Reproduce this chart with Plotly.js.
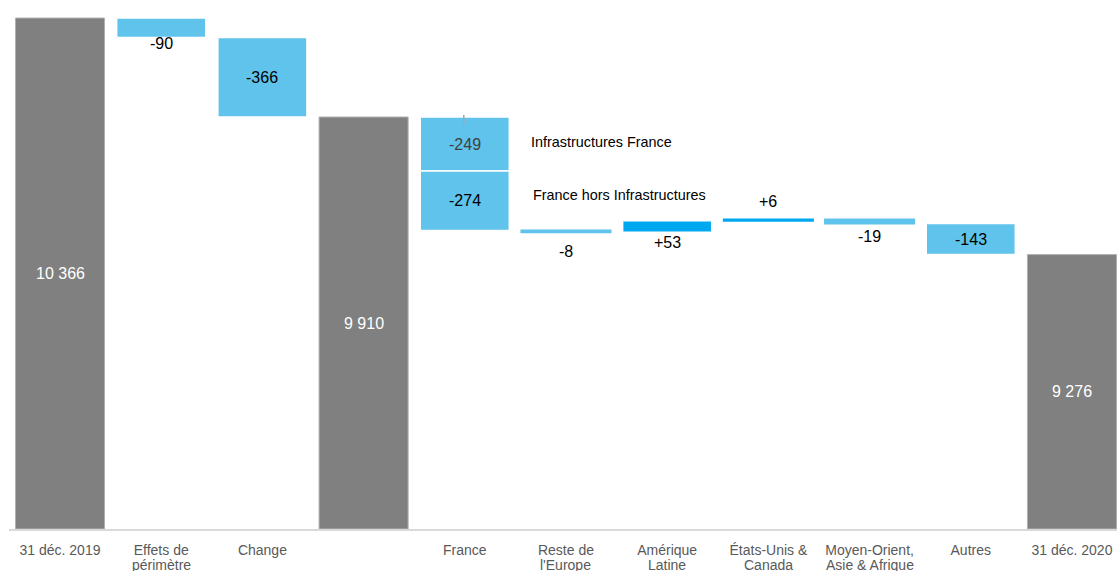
<!DOCTYPE html>
<html>
<head>
<meta charset="utf-8">
<script src="https://cdn.plot.ly/plotly-3.0.1.min.js"></script>
<style>
html,body{margin:0;padding:0;background:#fff;}
#chart{width:1117px;height:571px;}
</style>
</head>
<body>
<div id="chart"></div>
<script>
// ---- data ----
const categories = ['31 déc. 2019', 'Effets de<br>périmètre', 'Change', '', 'France',
  "Reste de<br>l'Europe", 'Amérique<br>Latine', 'États-Unis &<br>Canada',
  'Moyen-Orient,<br>Asie & Afrique', 'Autres', '31 déc. 2020'];
const totalIndex = [0, 3, 10];
const totalValues = [10366, 9910, 9276];
const totalLabels = ['10 366', '9 910', '9 276'];
const stepIndex = [1, 2, 4, 4, 5, 6, 7, 8, 9];
const stepValues = [-90, -366, -249, -274, -8, 53, 6, -19, -143];
const stepLabels = ['-90', '-366', '-249', '-274', '-8', '+53', '+6', '-19', '-143'];
const stepNotes = ['', '', 'Infrastructures France', 'France hors Infrastructures', '', '', '', '', ''];

// ---- style (label placement, not data) ----
const labelPlace = ['below', 'in', 'in', 'in', 'below', 'below', 'above', 'below', 'in'];
const labelShift = [6, 0, 0, 0, 19, 10, 18, 13, 0];
const labelColor = ['#000', '#000', '#404040', '#000', '#000', '#000', '#000', '#000', '#000'];
const noteShift = [0, 0, 2, 6, 0, 0, 0, 0, 0];
const noteX = [0, 0, 64, 66, 0, 0, 0, 0, 0];

const GRAY = '#808080', LIGHT = '#5fc3ec', DARK = '#00a8f0';
const yMin = 8012, yMax = 10449;
const FONT = 'Liberation Sans, Arial, sans-serif';
const TICKFONT = {family: FONT, size: 14, color: '#595959'};

// running totals
let running = totalValues[0];
const sBase = [], sLen = [], sStart = [], sEnd = [];
stepValues.forEach(v => {
  const s = running, e = running + v;
  sStart.push(s); sEnd.push(e);
  sBase.push(Math.min(s, e)); sLen.push(Math.abs(v));
  running = e;
});

const traces = [];
traces.push({
  type: 'bar', x: totalIndex, y: totalValues.map(v => v - yMin), base: totalValues.map(() => yMin),
  width: 0.88, marker: {color: GRAY, line: {color: '#b0b0b0', width: 1}}, hoverinfo: 'skip'
});
function stepTrace(idx, col) {
  return {
    type: 'bar', x: idx.map(i => stepIndex[i]), y: idx.map(i => sLen[i]), base: idx.map(i => sBase[i]),
    width: 0.88,
    marker: {color: col,
      line: {color: idx.map(i => sLen[i] < 30 ? col : '#ffffff'), width: idx.map(i => sLen[i] < 30 ? 2 : 1.5)}},
    hoverinfo: 'skip'
  };
}
const decIdx = stepValues.map((v, i) => i).filter(i => stepValues[i] < 0);
const incIdx = stepValues.map((v, i) => i).filter(i => stepValues[i] > 0);
traces.push(stepTrace(decIdx, LIGHT));
traces.push(stepTrace(incIdx, DARK));

const annotations = [];
totalIndex.forEach((xi, k) => {
  annotations.push({x: xi, y: (yMin + totalValues[k]) / 2, xref: 'x', yref: 'y', text: totalLabels[k],
    showarrow: false, font: {family: FONT, size: 16, color: '#ffffff'}, yanchor: 'middle'});
});
stepValues.forEach((v, i) => {
  const p = labelPlace[i];
  let y, ys = 0;
  if (p === 'in') { y = (sStart[i] + sEnd[i]) / 2; }
  else if (p === 'below') { y = sBase[i]; ys = -labelShift[i]; }
  else { y = sBase[i] + sLen[i]; ys = labelShift[i]; }
  annotations.push({x: stepIndex[i], y: y, yshift: ys, xref: 'x', yref: 'y', text: stepLabels[i],
    showarrow: false, font: {family: FONT, size: 16, color: labelColor[i]}, yanchor: 'middle'});
  if (stepNotes[i]) {
    annotations.push({x: stepIndex[i], y: (sStart[i] + sEnd[i]) / 2, xref: 'x', yref: 'y',
      xanchor: 'left', xshift: noteX[i], yshift: noteShift[i], yanchor: 'middle', text: stepNotes[i],
      showarrow: false, font: {family: FONT, size: 14.4, color: '#000'}});
  }
});
// second line of category labels
const firstLines = categories.map(c => c.split('<br>')[0]);
categories.forEach((c, i) => {
  const parts = c.split('<br>');
  if (parts.length > 1) {
    annotations.push({x: i, y: 0, xref: 'x', yref: 'paper', yanchor: 'middle', yshift: -36,
      text: parts[1], showarrow: false, font: TICKFONT});
  }
});

const fr = stepIndex.indexOf(4);
const shapes = [{
  type: 'line', xref: 'x', yref: 'y', ysizemode: 'pixel', yanchor: sStart[fr],
  x0: stepIndex[fr] - 0.01, x1: stepIndex[fr] - 0.01, y0: 2, y1: -7,
  line: {color: '#a6a6a6', width: 1.5}
}];

const layout = {
  width: 1117, height: 571,
  margin: {l: 9, r: 0, t: 0, b: 42},
  paper_bgcolor: '#fff', plot_bgcolor: '#fff',
  barmode: 'overlay', showlegend: false,
  xaxis: {type: 'linear', range: [-0.504, 10.445], tickvals: categories.map((c, i) => i), ticktext: firstLines,
    showgrid: false, zeroline: false, showline: true, linecolor: '#d9d9d9', linewidth: 2, ticks: '',
    ticklabelstandoff: 7, tickfont: TICKFONT, fixedrange: true},
  yaxis: {range: [yMin, yMax], visible: false, showgrid: false, zeroline: false, fixedrange: true},
  annotations: annotations, shapes: shapes
};
Plotly.newPlot('chart', traces, layout, {displayModeBar: false, staticPlot: true});
</script>
</body>
</html>
